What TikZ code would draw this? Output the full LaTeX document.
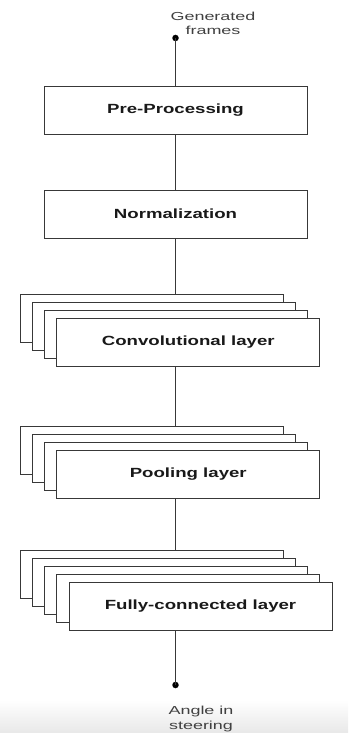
\documentclass[tikz,border=0pt]{standalone}
\usepackage{fontspec}
\newfontfamily\lblfont[FakeStretch=1.4]{Liberation Sans}
\newfontfamily\smfont[FakeStretch=1.55]{Liberation Sans}
\begin{document}
\begin{tikzpicture}[x=1pt,y=-1pt,
  layerbox/.style={draw=black!78, line width=0.9pt, fill=white, minimum width=263pt, minimum height=48pt, inner sep=0pt, outer sep=0pt},
  boxlabel/.style={font=\lblfont\bfseries\fontsize{13.3}{15}\selectfont, text=black!90},
  conn/.style={draw=black!78, line width=0.9pt},
  enddot/.style={circle, fill=black, inner sep=0pt, minimum size=6.5pt},
  endtext/.style={font=\smfont\fontsize{11.6}{14.5}\selectfont, text=black!75, align=center}]
\useasboundingbox (0,0) rectangle (348,733);
\shade[top color=white, bottom color=black!9] (0,700) rectangle (348,733);

% top label and dot
\node[endtext] (gen) at (213,23.5) {Generated\\frames};
\node[enddot] (top) at (175.5,38) {};

% pre-processing / normalization
\node[layerbox] (pre) at (175.5,110) {};
\node[boxlabel] (prel) at (pre.center) {Pre-Processing};
\node[layerbox] (norm) at (175.5,214) {};
\node[boxlabel] (norml) at (norm.center) {Normalization};

% convolutional stack
\node[layerbox] (c1) at (151.5,318) {};
\node[layerbox] (c2) at (163.75,326) {};
\node[layerbox] (c3) at (176,334) {};
\node[layerbox] (c4) at (188.25,342) {};
\node[boxlabel] (cl) at (c4.center) {Convolutional layer};

% pooling stack
\node[layerbox] (p1) at (151.5,450) {};
\node[layerbox] (p2) at (163.75,458) {};
\node[layerbox] (p3) at (176,466) {};
\node[layerbox] (p4) at (188.25,474) {};
\node[boxlabel] (pl) at (p4.center) {Pooling layer};

% fully connected stack
\node[layerbox] (f1) at (151.5,574) {};
\node[layerbox] (f2) at (163.75,582) {};
\node[layerbox] (f3) at (176,590) {};
\node[layerbox] (f4) at (188.25,598) {};
\node[layerbox] (f5) at (200.5,606) {};
\node[boxlabel] (fl) at (f5.center) {Fully-connected layer};

% bottom dot and label
\node[enddot] (bot) at (175.5,685) {};
\node[endtext] (ang) at (201,719) {Angle in\\steering};

% connectors
\draw[conn] (top.center) -- (pre.north);
\draw[conn] (pre.south) -- (norm.north);
\draw[conn] (norm.south) -- (norm.south |- c1.north);
\draw[conn] (norm.south |- c4.south) -- (norm.south |- p1.north);
\draw[conn] (norm.south |- p4.south) -- (norm.south |- f1.north);
\draw[conn] (norm.south |- f5.south) -- (bot.center);
\end{tikzpicture}
\end{document}
